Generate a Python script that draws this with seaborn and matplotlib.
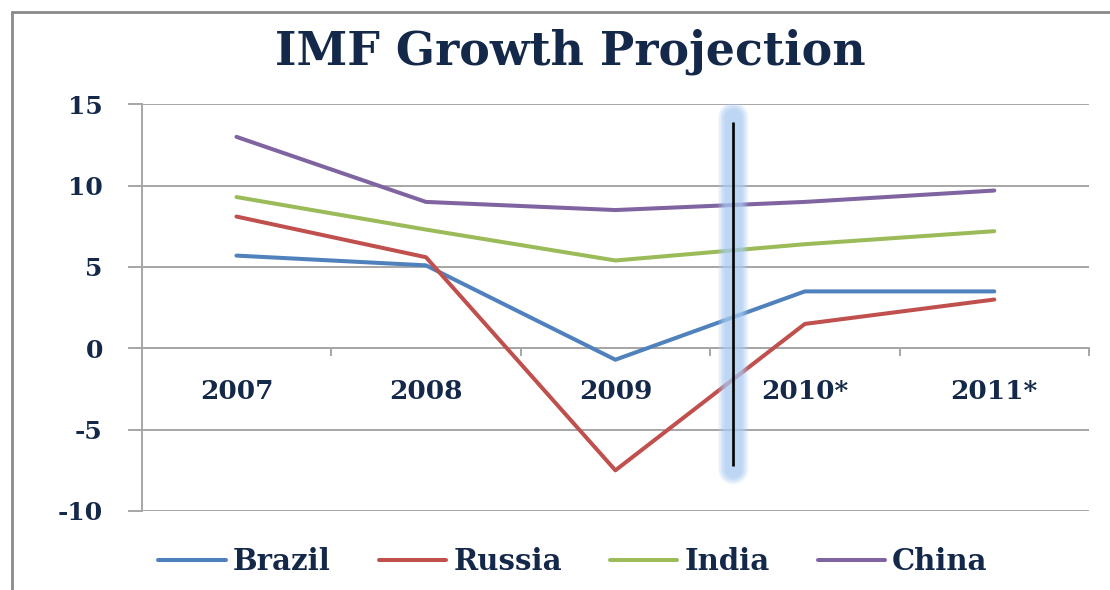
import matplotlib
matplotlib.use("Agg")
import matplotlib.pyplot as plt
import seaborn as sns
import pandas as pd
import numpy as np
from matplotlib.lines import Line2D

# ---- data ----
years = ['2007', '2008', '2009', '2010*', '2011*']
countries = ['Brazil', 'Russia', 'India', 'China']
brazil = [5.7, 5.1, -0.7, 3.5, 3.5]
russia = [8.1, 5.6, -7.5, 1.5, 3.0]
india = [9.3, 7.3, 5.4, 6.4, 7.2]
china = [13.0, 9.0, 8.5, 9.0, 9.7]
yticks = [-10, -5, 0, 5, 10, 15]
title = 'IMF Growth Projection'
# projection marker line (category position, y range)
marker_x = 2.62
marker_y = (-7.25, 13.9)

colors = ['#4F81BD', '#C0504D', '#9BBB59', '#8064A2']
txt = '#14284a'
grid_c = '#a6a6a6'

rows = []
for name, vals in zip(countries, [brazil, russia, india, china]):
    for i, v in enumerate(vals):
        rows.append({'idx': i, 'year': years[i], 'country': name, 'value': v})
df = pd.DataFrame(rows)

sns.set_theme(style='white')
plt.rcParams['font.family'] = ['DejaVu Serif']
plt.rcParams['font.weight'] = 'bold'
plt.rcParams['axes.unicode_minus'] = False

fig = plt.figure(figsize=(11.1, 5.9), dpi=100)
ax = fig.add_axes([0.1277, 0.1339, 0.9811 - 0.1277, 0.8232 - 0.1339])

sns.lineplot(data=df, x='idx', y='value', hue='country', hue_order=countries,
             palette=colors, linewidth=2.9, sort=False, ax=ax, zorder=3)
for ln in ax.lines:
    ln.set_solid_joinstyle('round')
    ln.set_solid_capstyle('round')

handles, labels = ax.get_legend_handles_labels()
if ax.get_legend() is not None:
    ax.get_legend().remove()

ax.set_xlim(-0.5, len(years) - 0.5)
ax.set_ylim(min(yticks), max(yticks))
ax.set_xlabel('')
ax.set_ylabel('')

# gridlines
ax.set_yticks(yticks)
ax.yaxis.grid(True, color=grid_c, linewidth=1.4)
ax.xaxis.grid(False)
ax.set_axisbelow(True)

for s in ['top', 'right']:
    ax.spines[s].set_visible(False)
ax.spines['left'].set_color(grid_c)
ax.spines['left'].set_linewidth(1.4)
ax.spines['bottom'].set_position(('data', 0))
ax.spines['bottom'].set_color(grid_c)
ax.spines['bottom'].set_linewidth(1.4)

ax.tick_params(axis='y', which='major', direction='out', length=10, width=1.4,
               color=grid_c, pad=18, labelsize=18, labelcolor=txt, left=True)
for t in ax.get_yticklabels():
    t.set_fontweight('bold')

# x: tick marks at boundaries, labels at centers
ax.set_xticks(np.arange(len(years) + 1) - 0.5)
ax.set_xticklabels([''] * (len(years) + 1))
ax.tick_params(axis='x', which='major', direction='out', length=6, width=1.4,
               color=grid_c, bottom=True)
ax.set_xticks(np.arange(len(years)), minor=True)
ax.set_xticklabels(years, minor=True, fontsize=19, fontweight='bold', color=txt)
ax.tick_params(axis='x', which='minor', length=0, pad=22)

# projection divider with glow
for w, a in [(22, 0.15), (20, 0.18), (18, 0.2), (16, 0.22), (14, 0.25), (12, 0.25)]:
    ax.plot([marker_x, marker_x], [marker_y[0] - 0.15, marker_y[1] + 0.3],
            color='#a8cbf3', linewidth=w, alpha=a,
            solid_capstyle='round', zorder=4)
ax.plot([marker_x, marker_x], list(marker_y), color='black', linewidth=1.9,
        zorder=5, solid_capstyle='butt')

# title
fig.text(570 / 1110, 1 - 52 / 590, title, ha='center', va='center',
         fontsize=33, fontweight='bold', color=txt)

# legend
fig.legend(handles, labels, loc='center', bbox_to_anchor=(573 / 1110, 1 - 562 / 590),
           ncol=4, frameon=False, handlelength=2.3,
           handletextpad=0.25, columnspacing=1.65, labelcolor=txt,
           prop={'weight': 'bold', 'size': 21})

# outer frame (top and left)
fig.add_artist(Line2D([12 / 1110, 12 / 1110], [0, 1 - 12 / 590],
                      transform=fig.transFigure, color='#8a8a8a', linewidth=2))
fig.add_artist(Line2D([12 / 1110, 1], [1 - 12 / 590, 1 - 12 / 590],
                      transform=fig.transFigure, color='#8a8a8a', linewidth=2))

fig.savefig('out.png', dpi=100)
